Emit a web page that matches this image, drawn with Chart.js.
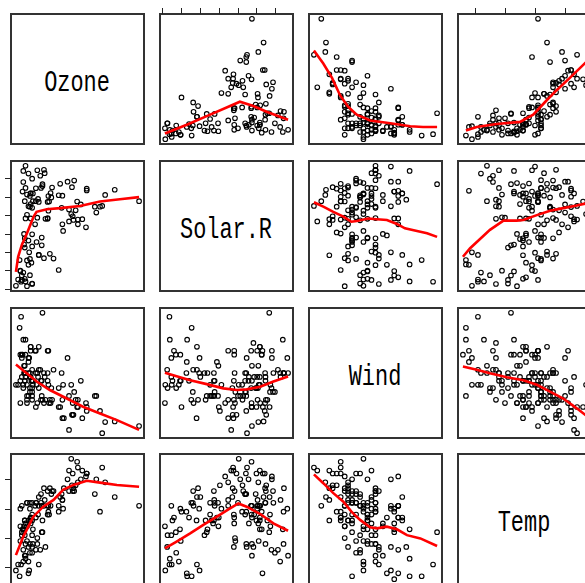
<!DOCTYPE html>
<html>
<head>
<meta charset="utf-8">
<script src="https://cdn.jsdelivr.net/npm/chart.js@4.4.0/dist/chart.umd.min.js"></script>
<style>
  html, body { margin: 0; padding: 0; background: #fff; }
  #wrap { position: relative; width: 585px; height: 583px; overflow: hidden; background: #fff; }
  #wrap canvas { position: absolute; }
  .lab {
    position: absolute; box-sizing: border-box; border: 2px solid #333;
    display: flex; align-items: center; justify-content: center;
    font-family: "Liberation Mono", monospace; font-size: 30px; color: #000;
  }
  .lab span { display: inline-block; transform: translateY(4px) scaleX(0.73); }
</style>
</head>
<body>
<div id="wrap"></div>
<script>
// DATA : airquality (May .. September, one line per month) ---------------
// (day 53 is not in the picture: no point at Wind = 1.7)

const varNames = ['Ozone', 'Solar.R', 'Wind', 'Temp'];

const ozone = [
  41, 36, 12, 18, null, 28, 23, 19, 8, null, 7, 16, 11, 14, 18, 14, 34, 6, 30, 11, 1, 11, 4, 32, null, null, null, 23, 45, 115, 37,
  null, null, null, null, null, null, 29, null, 71, 39, null, null, 23, null, null, 21, 37, 20, 12, 13, null, null, null, null, null, null, null, null, null, null,
  135, 49, 32, null, 64, 40, 77, 97, 97, 85, null, 10, 27, null, 7, 48, 35, 61, 79, 63, 16, null, null, 80, 108, 20, 52, 82, 50, 64, 59,
  39, 9, 16, 78, 35, 66, 122, 89, 110, null, null, 44, 28, 65, null, 22, 59, 23, 31, 44, 21, 9, null, 45, 168, 73, null, 76, 118, 84, 85,
  96, 78, 73, 91, 47, 32, 20, 23, 21, 24, 44, 21, 28, 9, 13, 46, 18, 13, 24, 16, 13, 23, 36, 7, 14, 30, null, 14, 18, 20
];

const solarR = [
  190, 118, 149, 313, null, null, 299, 99, 19, 194, null, 256, 290, 274, 65, 334, 307, 78, 322, 44, 8, 320, 25, 92, 66, 266, null, 13, 252, 223, 279,
  286, 287, 242, 186, 220, 264, 127, 273, 291, 323, 259, 250, 148, 332, 322, 191, 284, 37, 120, 137, 150, null, 91, 250, 135, 127, 47, 98, 31, 138,
  269, 248, 236, 101, 175, 314, 276, 267, 272, 175, 139, 264, 175, 291, 48, 260, 274, 285, 187, 220, 7, 258, 295, 294, 223, 81, 82, 213, 275, 253, 254,
  83, 24, 77, null, null, null, 255, 229, 207, 222, 137, 192, 273, 157, 64, 71, 51, 115, 244, 190, 259, 36, 255, 212, 238, 215, 153, 203, 225, 237, 188,
  167, 197, 183, 189, 95, 92, 252, 220, 230, 259, 236, 259, 238, 24, 112, 237, 224, 27, 238, 201, 238, 14, 139, 49, 20, 193, 145, 191, 131, 223
];

const wind = [
  7.4, 8.0, 12.6, 11.5, 14.3, 14.9, 8.6, 13.8, 20.1, 8.6, 6.9, 9.7, 9.2, 10.9, 13.2, 11.5, 12.0, 18.4, 11.5, 9.7, 9.7, 16.6, 9.7, 12.0, 16.6, 14.9, 8.0, 12.0, 14.9, 5.7, 7.4,
  8.6, 9.7, 16.1, 9.2, 8.6, 14.3, 9.7, 6.9, 13.8, 11.5, 10.9, 9.2, 8.0, 13.8, 11.5, 14.9, 20.7, 9.2, 11.5, 10.3, 6.3, null, 4.6, 6.3, 8.0, 8.0, 10.3, 11.5, 14.9, 8.0,
  4.1, 9.2, 9.2, 10.9, 4.6, 10.9, 5.1, 6.3, 5.7, 7.4, 8.6, 14.3, 14.9, 14.9, 14.3, 6.9, 10.3, 6.3, 5.1, 11.5, 6.9, 9.7, 11.5, 8.6, 8.0, 8.6, 12.0, 7.4, 7.4, 7.4, 9.2,
  6.9, 13.8, 7.4, 6.9, 7.4, 4.6, 4.0, 10.3, 8.0, 8.6, 11.5, 11.5, 11.5, 9.7, 11.5, 10.3, 6.3, 7.4, 10.9, 10.3, 15.5, 14.3, 12.6, 9.7, 3.4, 8.0, 5.7, 9.7, 2.3, 6.3, 6.3,
  6.9, 5.1, 2.8, 4.6, 7.4, 15.5, 10.9, 10.3, 10.9, 9.7, 14.9, 15.5, 6.3, 10.9, 11.5, 6.9, 13.8, 10.3, 10.3, 8.0, 12.6, 9.2, 10.3, 10.3, 16.6, 6.9, 13.2, 14.3, 8.0, 11.5
];

const temp = [
  67, 72, 74, 62, 56, 66, 65, 59, 61, 69, 74, 69, 66, 68, 58, 64, 66, 57, 68, 62, 59, 73, 61, 61, 57, 58, 57, 67, 81, 79, 76,
  78, 74, 67, 84, 85, 79, 82, 87, 90, 87, 93, 92, 82, 80, 79, 77, 72, 65, 73, 76, 77, null, 76, 76, 75, 78, 73, 80, 77, 83,
  84, 85, 81, 84, 83, 83, 88, 92, 92, 89, 82, 73, 81, 91, 80, 81, 82, 84, 87, 85, 74, 81, 82, 86, 85, 82, 86, 88, 86, 83, 81,
  81, 81, 82, 86, 85, 87, 89, 90, 90, 92, 86, 86, 82, 80, 79, 77, 79, 76, 78, 78, 77, 72, 75, 79, 81, 86, 88, 97, 94, 96, 94,
  91, 92, 93, 93, 87, 84, 80, 78, 75, 73, 81, 76, 77, 71, 71, 78, 67, 76, 68, 82, 64, 71, 81, 69, 63, 70, 77, 75, 76, 68
];

// red smooth lines as [x, y] knots (x = column var, y = row var)
const smOzoneSolar = [[7, 9], [65, 21], [118, 33], [180, 47], [206, 53], [242, 47], [277, 39], [334, 28]];
const smOzoneWind = [[2.3, 124], [3.7, 106], [5.0, 86], [6.2, 62], [7.4, 46], [8.7, 35], [10.7, 27], [13.7, 23], [16.7, 19], [18.6, 18], [20.7, 18]];
const smOzoneTemp = [[57, 13], [60.6, 18], [67.2, 22], [75, 25], [79.4, 35], [83.9, 55], [87.2, 69], [91.6, 86], [97, 108]];
const smSolarOzone = [[1, 46], [4, 87], [9, 119], [16, 151], [25, 196], [29, 209], [43, 216], [61, 219], [88, 225], [115, 237], [142, 243], [168, 249]];
const smSolarWind = [[2.3, 235], [3.7, 223], [5.2, 209], [6.7, 196], [7.9, 182], [8.7, 184], [10.4, 191], [11.7, 189], [13.2, 187], [14.7, 176], [15.9, 164], [17.7, 157], [19.2, 151], [20.7, 141]];
const smSolarTemp = [[56, 87], [58.4, 110], [61.7, 135], [65, 160], [69.5, 185], [73.9, 185], [76.1, 187], [80.6, 200], [85, 212], [89.4, 219], [93.9, 226], [97, 232]];
const smWindOzone = [[1, 12.8], [15.6, 11.45], [29.2, 10.2], [47, 8.9], [70, 7.6], [92, 6.35], [115, 5.3], [138, 4.3], [168, 2.8]];
const smWindSolar = [[7, 11.55], [38, 11.0], [74, 10.4], [118, 9.8], [162, 9.15], [198, 8.9], [224, 9.0], [260, 9.4], [295, 10.2], [334, 10.95]];
const smWindTemp = [[56, 12.5], [60.6, 12.0], [65, 11.45], [70.6, 10.85], [76.1, 10.4], [80.6, 9.7], [85, 8.65], [89.4, 7.6], [93.9, 6.1], [97, 5.0]];
const smTempOzone = [[1, 64.2], [11, 70.5], [24.6, 77.3], [38, 80.7], [52, 83], [65, 86.4], [79, 88.1], [97, 89.5], [115, 88.9], [138, 88.1], [168, 87.5]];
const smTempSolar = [[7, 66.5], [38, 68.8], [74, 71.6], [109, 74.5], [145, 77.3], [180, 80.1], [202, 81.8], [224, 80.7], [260, 78.2], [295, 75], [334, 72.5]];
const smTempWind = [[2.3, 91.7], [3.7, 88.7], [5.2, 85.3], [6.7, 82.4], [7.9, 79], [9.2, 76.2], [10.7, 73.7], [11.7, 73.3], [13.2, 73.9], [14.7, 73], [16.2, 71], [18.2, 69.9], [20.7, 67.3]];

// tick labels of each variable
const ozoneTicks = [0, 50, 100, 150];
const solarTicks = [0, 50, 100, 150, 200, 250, 300];
const windTicks = [5, 10, 15, 20];
const tempTicks = [60, 70, 80, 90];

const vars = [ozone, solarR, wind, temp];
const varTicks = [ozoneTicks, solarTicks, windTicks, tempTicks];
const smoothLines = [
  [null, smOzoneSolar, smOzoneWind, smOzoneTemp],
  [smSolarOzone, null, smSolarWind, smSolarTemp],
  [smWindOzone, smWindSolar, null, smWindTemp],
  [smTempOzone, smTempSolar, smTempWind, null]
];

// LAYOUT ------------------------------------------------------------------

const panelLeft = [11, 160, 309, 458];
const panelTop = [14, 161, 308, 454];
const panelW = 133;
const panelH = 130;
const M = 8;

// range of a variable, stretched 4% each side like R does
function extent(arr) {
  const v = arr.filter(a => a !== null);
  const lo = Math.min(...v), hi = Math.max(...v);
  const d = (hi - lo) * 0.04;
  return [lo - d, hi + d];
}

// box + axis tick marks, drawn through the chart scales
const boxPlugin = {
  id: 'box',
  afterDraw(chart, args, opts) {
    const { ctx, chartArea: a, scales } = chart;
    ctx.save();
    ctx.strokeStyle = '#333';
    ctx.lineWidth = 2;
    ctx.strokeRect(a.left, a.top, a.right - a.left, a.bottom - a.top);
    ctx.strokeStyle = '#222';
    ctx.lineWidth = 1;
    ctx.beginPath();
    (opts.top || []).forEach(v => {
      const px = Math.round(scales.x.getPixelForValue(v)) + 0.5;
      ctx.moveTo(px, a.top); ctx.lineTo(px, a.top - 6);
    });
    (opts.bottom || []).forEach(v => {
      const px = Math.round(scales.x.getPixelForValue(v)) + 0.5;
      ctx.moveTo(px, a.bottom); ctx.lineTo(px, a.bottom + 6);
    });
    (opts.left || []).forEach(v => {
      const py = Math.round(scales.y.getPixelForValue(v)) + 0.5;
      ctx.moveTo(a.left, py); ctx.lineTo(a.left - 6, py);
    });
    (opts.right || []).forEach(v => {
      const py = Math.round(scales.y.getPixelForValue(v)) + 0.5;
      ctx.moveTo(a.right, py); ctx.lineTo(a.right + 6, py);
    });
    ctx.stroke();
    ctx.restore();
  }
};

// PANELS -----------------------------------------------------------------

const wrap = document.getElementById('wrap');

for (let r = 0; r < 4; r++) {
  for (let c = 0; c < 4; c++) {
    if (r === c) {
      const div = document.createElement('div');
      div.className = 'lab';
      div.style.left = (panelLeft[c] - 1) + 'px';
      div.style.top = (panelTop[r] - 1) + 'px';
      div.style.width = (panelW + 2) + 'px';
      div.style.height = (panelH + 2) + 'px';
      div.innerHTML = '<span>' + varNames[r] + '</span>';
      wrap.appendChild(div);
      continue;
    }
    const xs = vars[c], ys = vars[r];
    const pts = [];
    xs.forEach((v, k) => {
      if (v !== null && ys[k] !== null) pts.push({ x: v, y: ys[k] });
    });
    const smooth = smoothLines[r][c].map(p => ({ x: p[0], y: p[1] }));
    const [xmin, xmax] = extent(xs);
    const [ymin, ymax] = extent(ys);

    const canvas = document.createElement('canvas');
    canvas.width = panelW + 2 * M;
    canvas.height = panelH + 2 * M;
    canvas.style.left = (panelLeft[c] - M) + 'px';
    canvas.style.top = (panelTop[r] - M) + 'px';
    wrap.appendChild(canvas);

    new Chart(canvas, {
      type: 'scatter',
      data: {
        datasets: [
          {
            data: smooth,
            showLine: true,
            borderColor: '#ff0000',
            borderWidth: 2.6,
            pointRadius: 0,
            tension: 0,
            fill: false,
            clip: false
          },
          {
            data: pts,
            pointStyle: 'circle',
            pointRadius: 2.3,
            pointBorderWidth: 1.1,
            pointBorderColor: '#000',
            pointBackgroundColor: 'rgba(0,0,0,0)',
            clip: false
          }
        ]
      },
      options: {
        responsive: false,
        animation: false,
        devicePixelRatio: 1,
        events: [],
        layout: { padding: M },
        scales: {
          x: { type: 'linear', min: xmin, max: xmax, display: false },
          y: { type: 'linear', min: ymin, max: ymax, display: false }
        },
        plugins: {
          legend: { display: false },
          tooltip: { enabled: false },
          box: {
            top: (r === 0 && c % 2 === 1) ? varTicks[c] : [],
            bottom: (r === 3 && c % 2 === 0) ? varTicks[c] : [],
            left: (c === 0 && r % 2 === 1) ? varTicks[r] : [],
            right: (c === 3 && r % 2 === 0) ? varTicks[r] : []
          }
        }
      },
      plugins: [boxPlugin]
    });
  }
}
</script>
</body>
</html>
